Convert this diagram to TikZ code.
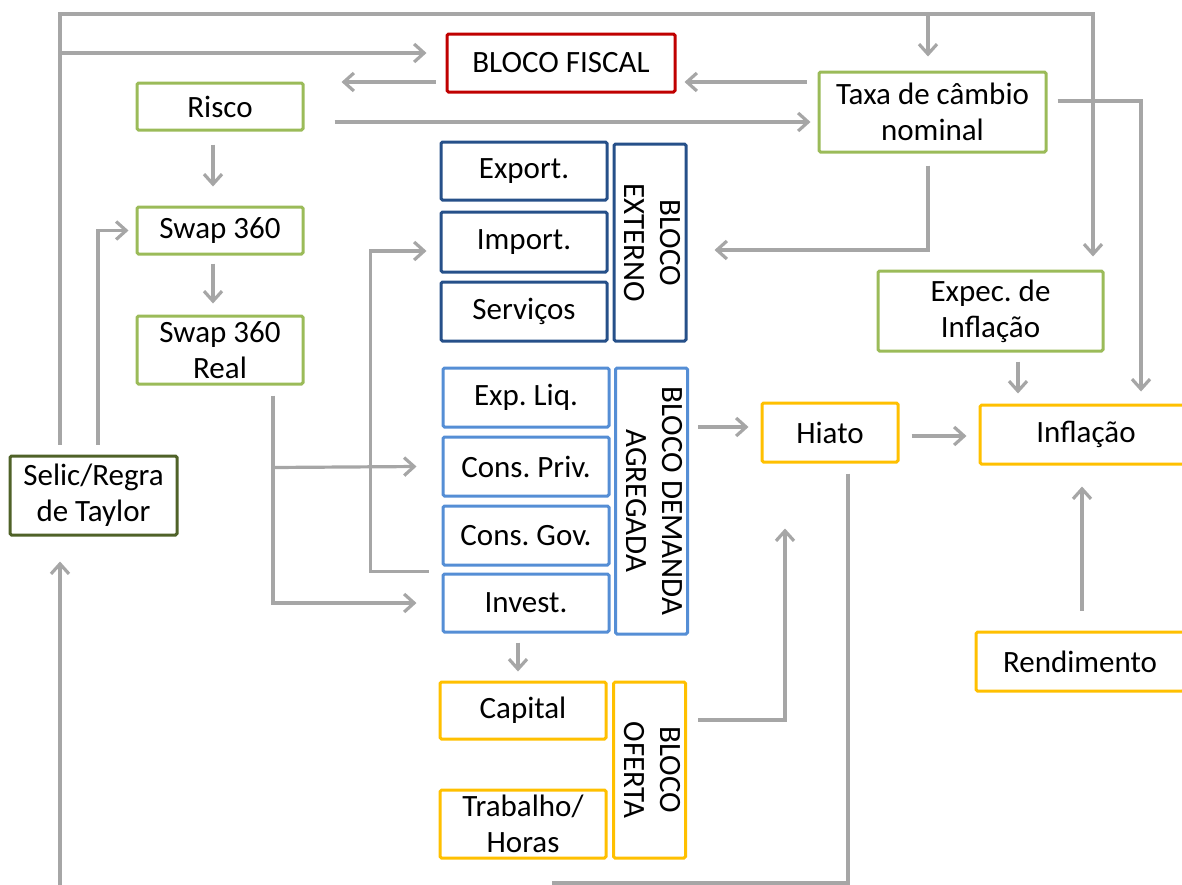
\documentclass[tikz,border=0pt]{standalone}
\usepackage{fontspec}
\usepackage{graphicx}
\setmainfont{Carlito}
\frenchspacing
\usetikzlibrary{arrows.meta,calc}
\definecolor{cgreen}{HTML}{9BBB59}
\definecolor{cred}{HTML}{C00000}
\definecolor{cdblue}{HTML}{265089}
\definecolor{clblue}{HTML}{558ED5}
\definecolor{corange}{HTML}{FFC000}
\definecolor{cdgreen}{HTML}{4F6228}
\definecolor{cgray}{HTML}{A6A6A6}
\newcommand\mybox[7]{\node[#6,minimum width={(#4-#2)*0.5pt},minimum height={(#5-#3)*0.5pt}] (#1) at ({(#2+#4)/2},{(#3+#5)/2}) {#7};}
\newcommand\vtext[1]{\rotatebox[origin=c]{-90}{\begin{tabular}{@{}c@{}}#1\end{tabular}}}
\tikzset{
  box/.style={draw,line width=1.5pt,rounded corners=0.8pt,fill=white,inner sep=0pt,align=center,font=\fontsize{15.5}{18}\selectfont},
  gbox/.style={box,draw=cgreen},
  rbox/.style={box,draw=cred},
  dbbox/.style={box,draw=cdblue},
  lbbox/.style={box,draw=clblue},
  obox/.style={box,draw=corange},
  dgbox/.style={box,draw=cdgreen},
  conn/.style={draw=cgray,line width=1.6pt},
  arr/.style={conn,-{Straight Barb[length=5pt,width=9pt,line width=1.6pt]}}
}
\begin{document}
\begin{tikzpicture}[x=0.5pt,y=-0.5pt]
\useasboundingbox (0,0) rectangle (1182,884);
% nodes
\mybox{fiscal}{447}{34}{675}{92}{rbox}{BLOCO FISCAL}
\mybox{risco}{137}{83}{303}{130}{gbox}{Risco}
\mybox{taxa}{819}{72}{1046}{152}{gbox}{Taxa de câmbio\\nominal}
\mybox{export}{441}{142}{607}{200}{dbbox}{Export.}
\mybox{import}{441}{212}{607}{272}{dbbox}{Import.}
\mybox{serv}{441}{282}{607}{341}{dbbox}{Serviços}
\mybox{ext}{615}{144}{685}{341}{dbbox}{\vtext{BLOCO\\EXTERNO}}
\mybox{swap}{137}{207}{303}{254}{gbox}{Swap 360}
\mybox{swapr}{137}{316}{303}{384}{gbox}{Swap 360\\Real}
\mybox{expec}{878}{271}{1103}{351}{gbox}{Expec. de\\Inflação}
\mybox{expliq}{443}{368}{609}{427}{lbbox}{Exp. Liq.}
\mybox{consp}{443}{437}{609}{496}{lbbox}{Cons. Priv.}
\mybox{consg}{443}{506}{609}{565}{lbbox}{Cons. Gov.}
\mybox{invest}{443}{574}{609}{632}{lbbox}{Invest.}
\mybox{dem}{617}{368}{686}{634}{lbbox}{\vtext{BLOCO DEMANDA\\AGREGADA}}
\mybox{hiato}{762}{403}{898}{462}{obox}{Hiato}
\mybox{infl}{980}{405}{1192}{464}{obox}{Inflação}
\mybox{selic}{10}{456}{177}{535}{dgbox}{Selic/Regra\\de Taylor}
\mybox{rend}{976}{632}{1184}{691}{obox}{Rendimento}
\mybox{capital}{440}{682}{606}{739}{obox}{Capital}
\mybox{trab}{440}{790}{606}{858}{obox}{Trabalho/\\Horas}
\mybox{ofer}{615}{682}{684}{858}{obox}{\vtext{BLOCO\\OFERTA}}
% junction coordinates
\coordinate (tl) at (60,14);
\coordinate (tr) at (1093,14);
\coordinate (jf) at (60,53);
\coordinate (jt) at (928,14);
\coordinate (bl) at (552,883);
\coordinate (sb) at (60,890);
% connectors
\draw[arr] ($(selic.north)+(-33.5,-10)$) -- (tl) -- (tr) -- ($(expec.north)+(102.5,-13)$);
\draw[arr] (jf) -- ($(fiscal.west)+(-19,-10)$);
\draw[arr] (jt) -- ($(taxa.north)+(-4.5,-14)$);
\draw[arr] ($(selic.north)+(4.5,-10)$) |- ($(swap.west)+(-7,0)$);
\draw[arr] ($(fiscal.west)+(-10,19)$) -- ($(risco.east)+(37,-24.5)$);
\draw[arr] ($(taxa.west)+(-11,-30)$) -- ($(fiscal.east)+(8,19)$);
\draw[arr] ($(risco.east)+(30,15.5)$) -- ($(taxa.west)+(-7,10)$);
\draw[arr] ($(risco.south)+(-7,13)$) -- ($(swap.north)+(-7,-19)$);
\draw[arr] ($(swap.south)+(-7,8)$) -- ($(swapr.north)+(-7,-11)$);
\draw[arr] ($(swapr.south)+(53,10)$) |- ($(invest.west)+(-25,0)$);
\draw[arr] ($(swapr.south)+(53,82)$) -- ($(consp.west)+(-25,0)$);
\draw[arr] ($(invest.north west)+(-13,-1)$) -| ($(import.west)+(-69,9)$) -- ($(import.west)+(-13,9)$);
\draw[arr] ($(taxa.south)+(-4.5,12)$) |- ($(ext.east)+(27,7.5)$);
\draw[arr] ($(taxa.east)+(10,-11)$) -| ($(infl.north)+(55,-12)$);
\draw[arr] ($(expec.south)+(27.5,9)$) -- ($(infl.north)+(-68,-10)$);
\draw[arr] ($(dem.east)+(9,-74)$) -- ($(hiato.west)+(-12,-5.5)$);
\draw[arr] ($(hiato.east)+(12,3.5)$) -- ($(infl.west)+(-12,1.5)$);
\draw[arr] ($(rend.north)+(2,-20)$) -- ($(infl.south)+(-4,21)$);
\draw[arr] ($(invest.south)+(-8,9)$) -- ($(capital.north)+(-5,-9)$);
\draw[arr] ($(ofer.east)+(11,-50)$) -| ($(hiato.south)+(-45,65)$);
\draw[conn] ($(hiato.south)+(18,10)$) |- (bl);
\draw[arr] (sb) -- ($(selic.south)+(-33.5,25)$);
\end{tikzpicture}
\end{document}
